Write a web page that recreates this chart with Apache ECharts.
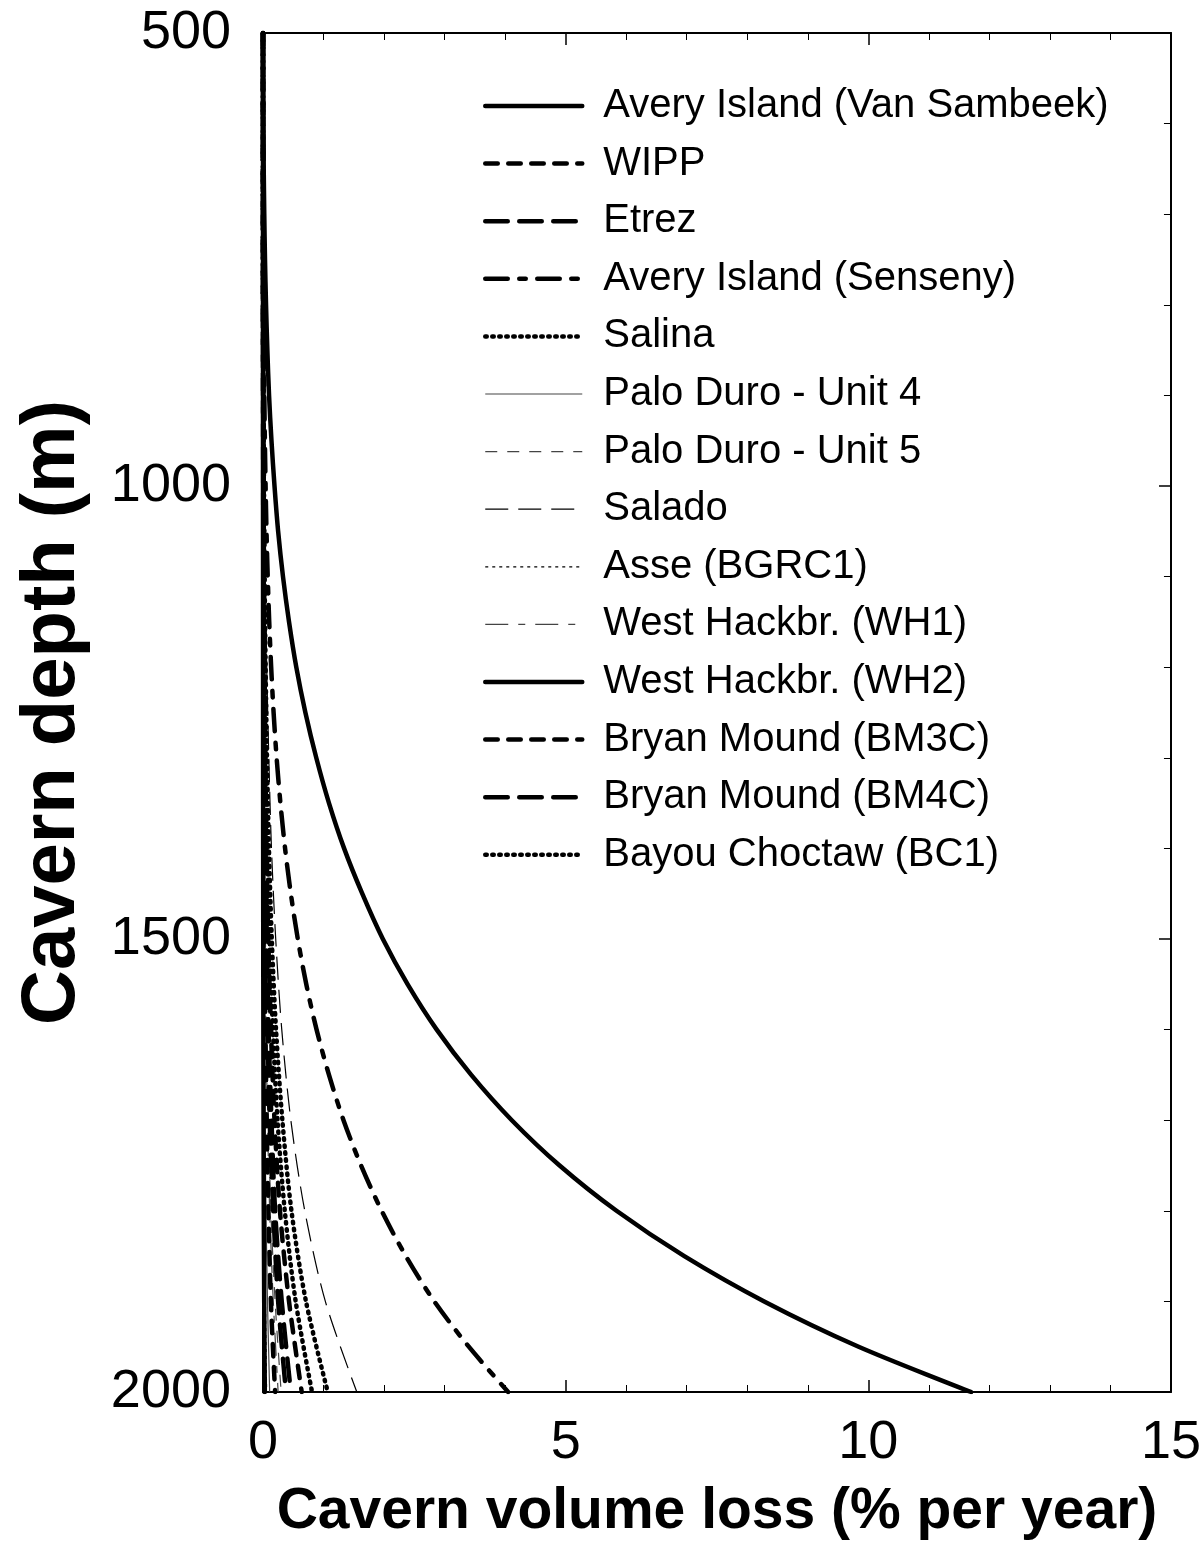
<!DOCTYPE html>
<html>
<head>
<meta charset="utf-8">
<script src="https://cdn.jsdelivr.net/npm/echarts@6/dist/echarts.min.js"></script>
<style>
html,body{margin:0;padding:0;background:#fff;}
#chart{width:1204px;height:1549px;}
</style>
</head>
<body>
<div id="chart"></div>
<script>
// Depth (m) sample points
const depthsFine = [500, 550, 600, 650, 700, 750, 800, 850, 900, 950, 1000, 1050, 1100, 1150, 1200, 1250,
                    1300, 1350, 1400, 1450, 1500, 1550, 1600, 1650, 1700, 1750, 1800, 1850, 1900, 1950, 2000];
const depths = [500, 600, 700, 800, 900, 1000, 1100, 1200, 1300, 1400, 1500, 1600, 1700, 1800, 1900, 2000];

// Volume loss (% per year) at each depth
const averyVanSambeek = [0, 0.002, 0.006, 0.012, 0.021, 0.033, 0.05, 0.072, 0.1, 0.14, 0.19, 0.25, 0.33, 0.43, 0.55, 0.7,
                         0.88, 1.09, 1.34, 1.64, 1.98, 2.39, 2.87, 3.44, 4.11, 4.9, 5.84, 6.96, 8.28, 9.84, 11.7];
const averySenseny    = [0, 0, 0.001, 0.002, 0.004, 0.006, 0.01, 0.015, 0.022, 0.031, 0.043, 0.058, 0.078, 0.103, 0.135, 0.175,
                         0.225, 0.288, 0.365, 0.46, 0.575, 0.715, 0.885, 1.09, 1.33, 1.62, 1.96, 2.36, 2.83, 3.4, 4.05];
const wipp            = [0, 0, 0.001, 0.002, 0.005, 0.01, 0.016, 0.026, 0.04, 0.058, 0.087, 0.13, 0.19, 0.28, 0.43, 0.64];
const etrez           = [0, 0, 0, 0.001, 0.003, 0.007, 0.011, 0.018, 0.029, 0.042, 0.062, 0.092, 0.14, 0.2, 0.31, 0.46];
const salina          = [0, 0, 0.001, 0.003, 0.008, 0.016, 0.027, 0.043, 0.066, 0.098, 0.145, 0.215, 0.32, 0.47, 0.71, 1.07];
const paloDuro4       = [0, 0, 0, 0, 0.001, 0.002, 0.003, 0.004, 0.007, 0.01, 0.015, 0.022, 0.033, 0.049, 0.074, 0.11];
const paloDuro5       = [0, 0, 0, 0.001, 0.002, 0.005, 0.008, 0.012, 0.019, 0.027, 0.041, 0.06, 0.09, 0.13, 0.2, 0.3];
const salado          = [0, 0, 0.002, 0.004, 0.011, 0.023, 0.039, 0.062, 0.096, 0.14, 0.21, 0.31, 0.46, 0.69, 1.03, 1.55];
const asse            = [0, 0, 0, 0, 0, 0.001, 0.0015, 0.0024, 0.0037, 0.0055, 0.008, 0.012, 0.018, 0.027, 0.04, 0.06];
const westHackWH1     = [0, 0, 0, 0.001, 0.002, 0.004, 0.006, 0.01, 0.016, 0.023, 0.034, 0.05, 0.075, 0.11, 0.17, 0.25];
const westHackWH2     = [0, 0, 0, 0, 0, 0, 0.001, 0.0012, 0.0018, 0.0027, 0.004, 0.006, 0.009, 0.013, 0.02, 0.03];
const bryanBM3C       = [0, 0, 0, 0, 0.001, 0.003, 0.005, 0.008, 0.012, 0.018, 0.027, 0.04, 0.06, 0.09, 0.13, 0.2];
const bryanBM4C       = [0, 0, 0, 0.001, 0.003, 0.006, 0.01, 0.015, 0.024, 0.035, 0.052, 0.076, 0.11, 0.17, 0.25, 0.38];
const bayouBC1        = [0, 0, 0.001, 0.002, 0.006, 0.012, 0.02, 0.032, 0.05, 0.074, 0.11, 0.163, 0.24, 0.36, 0.54, 0.81];

const seriesNames = [
  'Avery Island (Van Sambeek)', 'WIPP', 'Etrez', 'Avery Island (Senseny)', 'Salina',
  'Palo Duro - Unit 4', 'Palo Duro - Unit 5', 'Salado', 'Asse (BGRC1)', 'West Hackbr. (WH1)',
  'West Hackbr. (WH2)', 'Bryan Mound (BM3C)', 'Bryan Mound (BM4C)', 'Bayou Choctaw (BC1)'
];
const seriesValues = [
  averyVanSambeek, wipp, etrez, averySenseny, salina,
  paloDuro4, paloDuro5, salado, asse, westHackWH1,
  westHackWH2, bryanBM3C, bryanBM4C, bayouBC1
];
const seriesDepths = [
  depthsFine, depths, depths, depthsFine, depths,
  depths, depths, depths, depths, depths,
  depths, depths, depths, depths
];

// Line styles (width, dash pattern, cap, colour)
const THICK = 4.5, THIN = 1.2;
const styles = [
  {width: THICK, type: 'solid', cap: 'round', color: '#000'},
  {width: THICK, type: [12.5, 10.5], cap: 'round', color: '#000'},
  {width: THICK, type: [22.5, 11.5], cap: 'round', color: '#000'},
  {width: THICK, type: [22.5, 11.5, 6.5, 11.5], cap: 'round', color: '#000'},
  {width: THICK, type: [1.5, 5.5], cap: 'round', color: '#000'},
  {width: THIN, type: 'solid', cap: 'butt', color: '#444'},
  {width: THIN, type: [12, 10], cap: 'butt', color: '#444'},
  {width: THIN, type: [23, 10], cap: 'butt', color: '#000'},
  {width: THIN, type: [3, 4], cap: 'butt', color: '#000'},
  {width: THIN, type: [23, 10, 7, 10], cap: 'butt', color: '#444'},
  {width: THICK, type: 'solid', cap: 'round', color: '#000'},
  {width: THICK, type: [12.5, 10.5], cap: 'round', color: '#000'},
  {width: THICK, type: [22.5, 11.5], cap: 'round', color: '#000'},
  {width: THICK, type: [1.5, 5.5], cap: 'round', color: '#000'}
];

const FONT = 'Liberation Sans, Arial, sans-serif';

const chart = echarts.init(document.getElementById('chart'), null, {renderer: 'canvas'});

const series = seriesNames.map((name, i) => ({
  name: name,
  type: 'line',
  xAxisIndex: 0,
  yAxisIndex: 0,
  symbol: 'none',
  showSymbol: false,
  smooth: 0.3,
  animation: false,
  lineStyle: {
    width: styles[i].width,
    type: styles[i].type,
    color: styles[i].color,
    cap: styles[i].cap,
    join: 'round'
  },
  itemStyle: {color: styles[i].color},
  data: seriesDepths[i].map((d, j) => [seriesValues[i][j], d])
}));

const option = {
  backgroundColor: '#fff',
  animation: false,
  grid: {left: 263, right: 29, top: 33, bottom: 157, containLabel: false},
  legend: {
    orient: 'vertical',
    left: 478,
    top: 79,
    itemWidth: 97,
    itemHeight: 14,
    itemGap: 13.6,
    lineStyle: {width: 'inherit'},
    itemStyle: {opacity: 0},
    textStyle: {fontSize: 40, fontFamily: FONT, color: '#000', lineHeight: 44, padding: [0, 0, 0, 16]},
    data: seriesNames
  },
  xAxis: [
    {
      type: 'value', position: 'bottom', min: 0, max: 15, interval: 5,
      axisLine: {show: true, onZero: false, lineStyle: {color: '#000', width: 2}},
      axisTick: {show: true, inside: true, length: 12, lineStyle: {color: '#000', width: 1.5}},
      minorTick: {show: true, splitNumber: 5, length: 7, lineStyle: {color: '#000', width: 1}},
      splitLine: {show: false},
      axisLabel: {fontSize: 54, fontFamily: FONT, color: '#000', margin: 24},
      name: 'Cavern volume loss (% per year)',
      nameLocation: 'middle',
      nameGap: 92,
      nameTextStyle: {fontSize: 57, fontWeight: 'bold', fontFamily: FONT, color: '#000'}
    },
    {
      type: 'value', position: 'top', min: 0, max: 15, interval: 5,
      axisLine: {show: true, onZero: false, lineStyle: {color: '#000', width: 2}},
      axisTick: {show: true, inside: true, length: 12, lineStyle: {color: '#000', width: 1.5}},
      minorTick: {show: true, splitNumber: 5, length: 7, lineStyle: {color: '#000', width: 1}},
      splitLine: {show: false},
      axisLabel: {show: false}
    }
  ],
  yAxis: [
    {
      type: 'value', position: 'left', inverse: true, min: 500, max: 2000, interval: 500,
      axisLine: {show: true, onZero: false, lineStyle: {color: '#000', width: 3}},
      axisTick: {show: false},
      splitLine: {show: false},
      axisLabel: {fontSize: 54, fontFamily: FONT, color: '#000', margin: 32, formatter: v => String(v)},
      name: 'Cavern depth (m)',
      nameLocation: 'middle',
      nameGap: 172,
      nameRotate: 90,
      nameTextStyle: {fontSize: 76, fontWeight: 'bold', fontFamily: FONT, color: '#000'}
    },
    {
      type: 'value', position: 'right', inverse: true, min: 500, max: 2000, interval: 500,
      axisLine: {show: true, onZero: false, lineStyle: {color: '#000', width: 2}},
      axisTick: {show: true, inside: true, length: 12, lineStyle: {color: '#000', width: 1.5}},
      minorTick: {show: true, splitNumber: 5, length: 7, lineStyle: {color: '#000', width: 1}},
      splitLine: {show: false},
      axisLabel: {show: false}
    }
  ],
  series: series
};

chart.setOption(option);
</script>
</body>
</html>
